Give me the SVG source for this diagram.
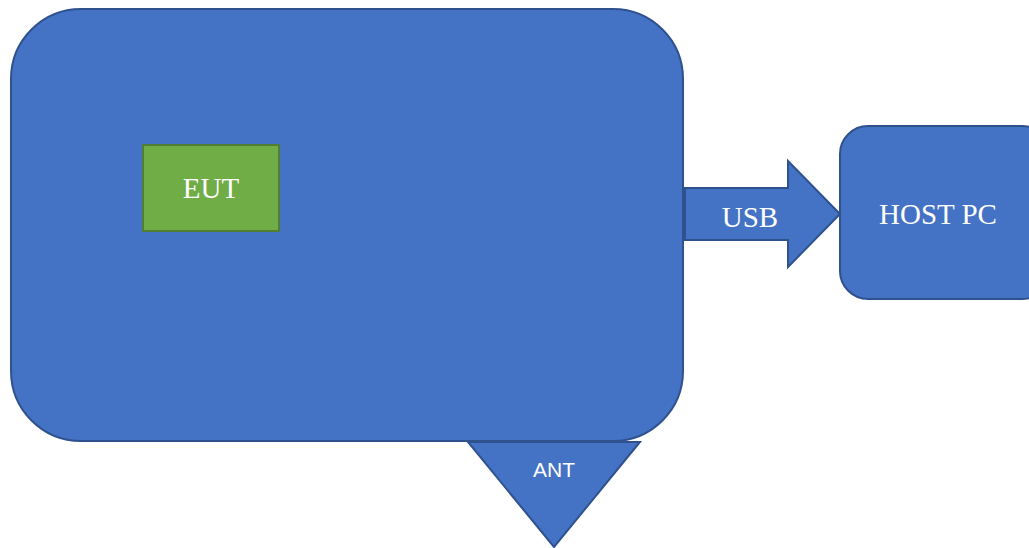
<svg xmlns="http://www.w3.org/2000/svg" width="1029" height="548" viewBox="0 0 1029 548">
<style>
.b{fill:#4472C4;stroke:#2F528F;stroke-width:2}
.g{fill:#70AD47;stroke:#507E32;stroke-width:2}
.t{font-family:"Liberation Serif",serif;font-size:29px;fill:#fff;text-anchor:middle}
.s{font-family:"Liberation Sans",sans-serif;font-size:21px;fill:#fff;text-anchor:middle}
</style>
<rect width="1029" height="548" fill="#fff"/>
<g id="main">
<rect class="b" x="11" y="9" width="672" height="432" rx="70" ry="70"/>
</g>
<g id="ant">
<polygon class="b" points="468,442 640,442 554,547"/>
<text class="s" x="554" y="477">ANT</text>
</g>
<g id="eut">
<rect class="g" x="143" y="145" width="136" height="86"/>
<text class="t" x="211" y="198">EUT</text>
</g>
<g id="connectors">
<polygon class="b" points="685,188 788,188 788,161 840,214 788,267 788,240 685,240"/>
<text class="t" x="750" y="227">USB</text>
</g>
<g id="host">
<rect class="b" x="840" y="126" width="210" height="173" rx="28" ry="28"/>
<text class="t" x="938" y="224">HOST PC</text>
</g>
</svg>
